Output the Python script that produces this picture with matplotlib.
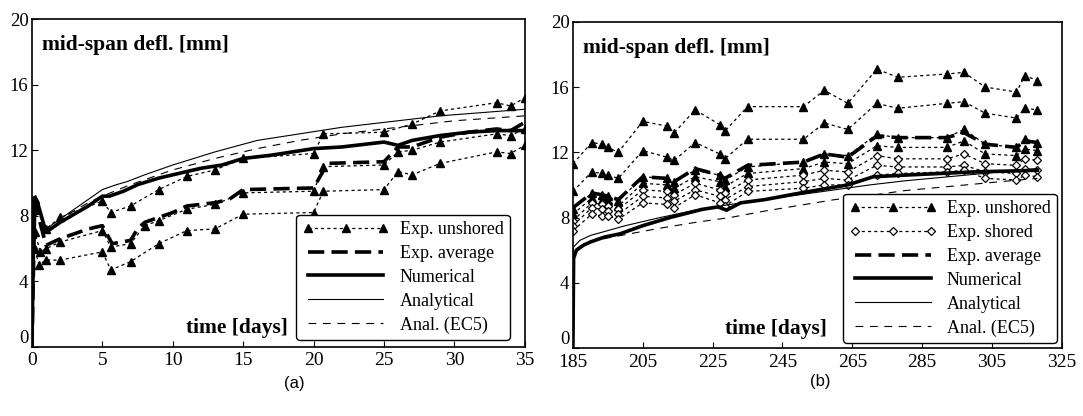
import numpy as np
import matplotlib
matplotlib.use("Agg")
import matplotlib.pyplot as plt

plt.rcParams['font.family'] = ['Liberation Serif', 'DejaVu Serif']

# ---------- panel (a): first 35 days ----------
a_t_up = [0, 0.2, 1, 2, 5, 5.6, 7, 9, 11, 13, 15, 20, 20.7, 25, 27, 29, 33, 34, 35]
a_up = [0, 9.0, 7.2, 7.9, 8.9, 8.2, 8.6, 9.6, 10.4, 10.8, 11.5, 11.8, 13.0, 13.1, 13.6, 14.4, 14.9, 14.7, 15.2]

a_t_mid = [0, 0.2, 0.6, 1, 2, 5, 5.6, 7, 8, 9, 11, 13, 15, 20, 20.7, 25, 26, 27, 29, 33, 34, 35]
a_mid = [0, 7.0, 5.8, 6.0, 6.4, 7.1, 6.1, 6.3, 7.4, 7.7, 8.4, 8.7, 9.4, 9.5, 11.0, 11.1, 11.9, 12.0, 12.5, 13.0, 12.9, 13.3]

a_t_low = [0, 0.2, 0.5, 1, 2, 5, 5.6, 7, 9, 11, 13, 15, 20, 20.7, 25, 26, 27, 29, 33, 34, 35]
a_low = [0, 6.0, 5.0, 5.3, 5.3, 5.8, 4.7, 5.2, 6.3, 7.1, 7.2, 8.1, 8.2, 9.5, 9.6, 10.7, 10.5, 11.2, 11.9, 11.8, 12.3]

a_t_avg = [0, 0.2, 1, 2, 3, 4, 5, 5.7, 7, 7.5, 8, 9, 10, 11, 12, 13, 14, 15, 20, 21, 25, 26, 27, 28, 29, 31, 33, 34, 35]
a_avg = [0, 8.8, 6.2, 6.6, 6.9, 7.2, 7.4, 6.3, 6.5, 7.2, 7.6, 7.9, 8.2, 8.6, 8.7, 8.8, 9.0, 9.6, 9.7, 11.2, 11.3, 12.2, 12.2, 12.5, 12.8, 13.1, 13.3, 13.2, 13.7]

a_t_num = [0, 0.15, 0.4, 1, 1.5, 2, 3, 4, 5, 5.5, 6.5, 7.5, 9, 10.5, 12, 13.5, 15, 17, 18.5, 20, 22, 24, 25, 26, 27, 29, 31, 33, 35]
a_num = [0, 9.1, 8.8, 7.0, 7.3, 7.6, 8.1, 8.6, 9.2, 9.2, 9.5, 9.9, 10.3, 10.6, 10.9, 11.1, 11.5, 11.7, 11.9, 12.1, 12.2, 12.4, 12.5, 12.3, 12.6, 12.9, 13.1, 13.2, 13.2]

a_t_an = [0, 0.15, 1, 2, 3, 4, 5, 6, 6.8, 8, 10, 13, 16, 19, 22, 26, 29, 32, 35]
a_an = [0, 9.0, 7.2, 7.8, 8.4, 9.0, 9.6, 9.9, 10.1, 10.5, 11.1, 11.9, 12.6, 13.0, 13.4, 13.8, 14.1, 14.3, 14.5]

a_t_ec5 = [0, 0.15, 1, 2, 3, 4, 5, 7, 10, 13, 16, 19, 22, 26, 30, 35]
a_ec5 = [0, 8.8, 7.1, 7.8, 8.3, 8.8, 9.2, 9.9, 10.8, 11.5, 12.1, 12.6, 13.0, 13.4, 13.8, 14.1]

# ---------- panel (b): days 185 - 318 ----------
b_t = [185, 190.4, 193.3, 195, 198, 205, 212, 214, 220, 227, 228.5, 235, 251, 257, 263.7, 272, 278, 292, 297, 303, 312, 314.4, 318]
b_un1 = [11.3, 12.6, 12.5, 12.3, 12.0, 13.9, 13.6, 13.2, 14.6, 13.7, 13.3, 14.8, 14.8, 15.8, 15.0, 17.1, 16.6, 16.8, 16.9, 16.0, 15.7, 16.7, 16.4]
b_un2 = [9.6, 10.8, 10.7, 10.6, 10.4, 12.1, 11.7, 11.5, 12.6, 11.9, 11.6, 12.8, 12.8, 13.8, 13.4, 15.0, 14.7, 15.0, 15.1, 14.4, 14.1, 14.7, 14.6]
b_un3 = [8.5, 9.5, 9.4, 9.3, 9.0, 10.5, 10.4, 10.2, 10.9, 10.6, 10.3, 11.1, 11.4, 11.9, 11.8, 13.1, 12.9, 12.9, 13.4, 12.5, 12.3, 12.8, 12.6]
b_un4 = [8.2, 9.2, 9.1, 9.0, 8.7, 10.1, 10.0, 9.8, 10.5, 10.2, 9.9, 10.7, 11.0, 11.4, 11.3, 12.4, 12.3, 12.3, 12.7, 11.9, 11.8, 12.2, 12.1]
b_sh1 = [7.8, 8.9, 8.8, 8.7, 8.5, 9.7, 9.6, 9.4, 10.1, 9.7, 9.5, 10.3, 10.6, 10.9, 10.8, 11.8, 11.6, 11.6, 11.9, 11.3, 11.2, 11.6, 11.5]
b_sh2 = [7.5, 8.6, 8.5, 8.4, 8.2, 9.3, 9.2, 9.0, 9.7, 9.3, 9.1, 9.9, 10.2, 10.4, 10.3, 11.2, 11.1, 11.1, 11.2, 10.8, 10.7, 11.0, 10.9]
b_sh3 = [7.2, 8.2, 8.1, 8.1, 7.9, 8.9, 8.8, 8.6, 9.4, 8.9, 8.7, 9.6, 9.8, 10.0, 10.0, 10.6, 10.7, 10.8, 10.9, 10.4, 10.3, 10.6, 10.5]
b_avg = [8.6, 9.5, 9.4, 9.3, 9.1, 10.5, 10.4, 10.2, 11.0, 10.6, 10.4, 11.2, 11.4, 11.9, 11.7, 13.0, 12.9, 12.9, 13.2, 12.5, 12.3, 12.7, 12.6]

b_t_num = [185, 185.2, 186, 188, 190, 194, 198.5, 205, 212.8, 222, 226.5, 229, 233, 240, 250, 263.7, 271, 280, 290, 300, 310, 318]
b_num = [0, 5.5, 6.0, 6.3, 6.5, 6.8, 7.0, 7.5, 8.0, 8.5, 8.65, 8.45, 8.9, 9.1, 9.5, 10.0, 10.5, 10.6, 10.7, 10.8, 10.85, 10.9]

b_t_an = [185, 185.2, 187, 190, 195, 200, 210, 220, 230, 240, 250, 260, 270, 280, 290, 300, 310, 318]
b_an = [0, 6.2, 6.6, 6.9, 7.2, 7.5, 8.0, 8.45, 8.8, 9.1, 9.4, 9.7, 10.0, 10.25, 10.45, 10.65, 10.85, 11.0]

b_t_ec5 = [185, 185.2, 190, 195, 200, 210, 220, 230, 240, 250, 260, 270, 280, 290, 300, 310, 318]
b_ec5 = [0, 6.0, 6.5, 6.75, 6.95, 7.35, 7.7, 8.0, 8.4, 8.75, 9.1, 9.35, 9.65, 9.85, 10.05, 10.25, 10.4]

a_xticks = [0, 5, 10, 15, 20, 25, 30, 35]
b_xticks = [185, 205, 225, 245, 265, 285, 305, 325]
yticks = [0, 4, 8, 12, 16, 20]

# styles
dot = dict(color='k', lw=0.9, dashes=(2.5, 2.5))
tri = dict(marker='^', ms=5.5, mfc='k', mec='k')
dia = dict(marker='D', ms=4.5, mfc='white', mec='k', mew=0.9)
avg_st = dict(color='k', lw=2.6, dashes=(4.5, 2))
num_st = dict(color='k', lw=2.6)
an_st = dict(color='k', lw=0.8)
ec5_st = dict(color='k', lw=0.8, dashes=(7, 6))

fig = plt.figure(figsize=(10.83, 4.16), dpi=100)
ax1 = fig.add_axes([0.0295, 0.166, 0.455, 0.788])
ax2 = fig.add_axes([0.529, 0.1635, 0.4515, 0.784])

# (a)
ax1.plot(a_t_up, a_up, markevery=slice(1, None), label='Exp. unshored', **dot, **tri)
ax1.plot(a_t_mid, a_mid, markevery=slice(1, None), **dot, **tri)
ax1.plot(a_t_low, a_low, markevery=slice(1, None), **dot, **tri)
ax1.plot(a_t_an, a_an, label='Analytical', **an_st)
ax1.plot(a_t_ec5, a_ec5, label='Anal. (EC5)', **ec5_st)
ax1.plot(a_t_avg, a_avg, label='Exp. average', **avg_st)
ax1.plot(a_t_num, a_num, label='Numerical', **num_st)
ax1.set_xlim(0, 35)

# (b)
for yv in [b_un1, b_un2, b_un3, b_un4]:
    ax2.plot(b_t, yv, label='Exp. unshored', **dot, **tri)
for yv in [b_sh1, b_sh2, b_sh3]:
    ax2.plot(b_t, yv, label='Exp. shored', **dot, **dia)
ax2.plot(b_t_an, b_an, label='Analytical', **an_st)
ax2.plot(b_t_ec5, b_ec5, label='Anal. (EC5)', **ec5_st)
ax2.plot(b_t, b_avg, label='Exp. average', **avg_st)
ax2.plot(b_t_num, b_num, label='Numerical', **num_st)
ax2.set_xlim(185, 325)

for ax, xt in [(ax1, a_xticks), (ax2, b_xticks)]:
    ax.set_ylim(0, 20)
    ax.set_xticks(xt)
    ax.set_yticks(yticks)
    ax.tick_params(direction='in', length=4, width=0.8, labelsize=14)
    ax.tick_params(axis='x', pad=4)
    ax.tick_params(axis='y', pad=2.5, labelsize=13.5)
    # the "0" on the y axis sits just above the corner, as in the original
    ax.get_yticklabels()[0].set_verticalalignment('bottom')
    for s in ax.spines.values():
        s.set_linewidth(1.2)
    ax.text(0.02, 0.92, 'mid-span defl. [mm]', transform=ax.transAxes,
            fontsize=15.5, fontweight='bold', va='center', ha='left')
    ax.text(0.52, 0.058, 'time [days]', transform=ax.transAxes,
            fontsize=15.5, fontweight='bold', va='center', ha='right')

def legend(ax, order, anchor):
    hs, ls = ax.get_legend_handles_labels()
    d = {}
    for h, l in zip(hs, ls):
        d.setdefault(l, h)
    lg = ax.legend([d[k] for k in order], order, loc='lower right', bbox_to_anchor=anchor,
                   borderaxespad=0, fontsize=13, handlelength=4.8, numpoints=3,
                   labelspacing=0.38, fancybox=True, framealpha=1, edgecolor='k',
                   borderpad=0.35, handletextpad=0.6)
    lg.get_frame().set_linewidth(1.0)

legend(ax1, ['Exp. unshored', 'Exp. average', 'Numerical', 'Analytical', 'Anal. (EC5)'], (0.97, 0.021))
legend(ax2, ['Exp. unshored', 'Exp. shored', 'Exp. average', 'Numerical', 'Analytical', 'Anal. (EC5)'], (0.99, 0.015))

fig.text(0.272, 0.079, '(a)', fontsize=12, family='Liberation Sans', ha='center', va='center')
fig.text(0.757, 0.084, '(b)', fontsize=12, family='Liberation Sans', ha='center', va='center')

fig.savefig('out.png', dpi=100)
